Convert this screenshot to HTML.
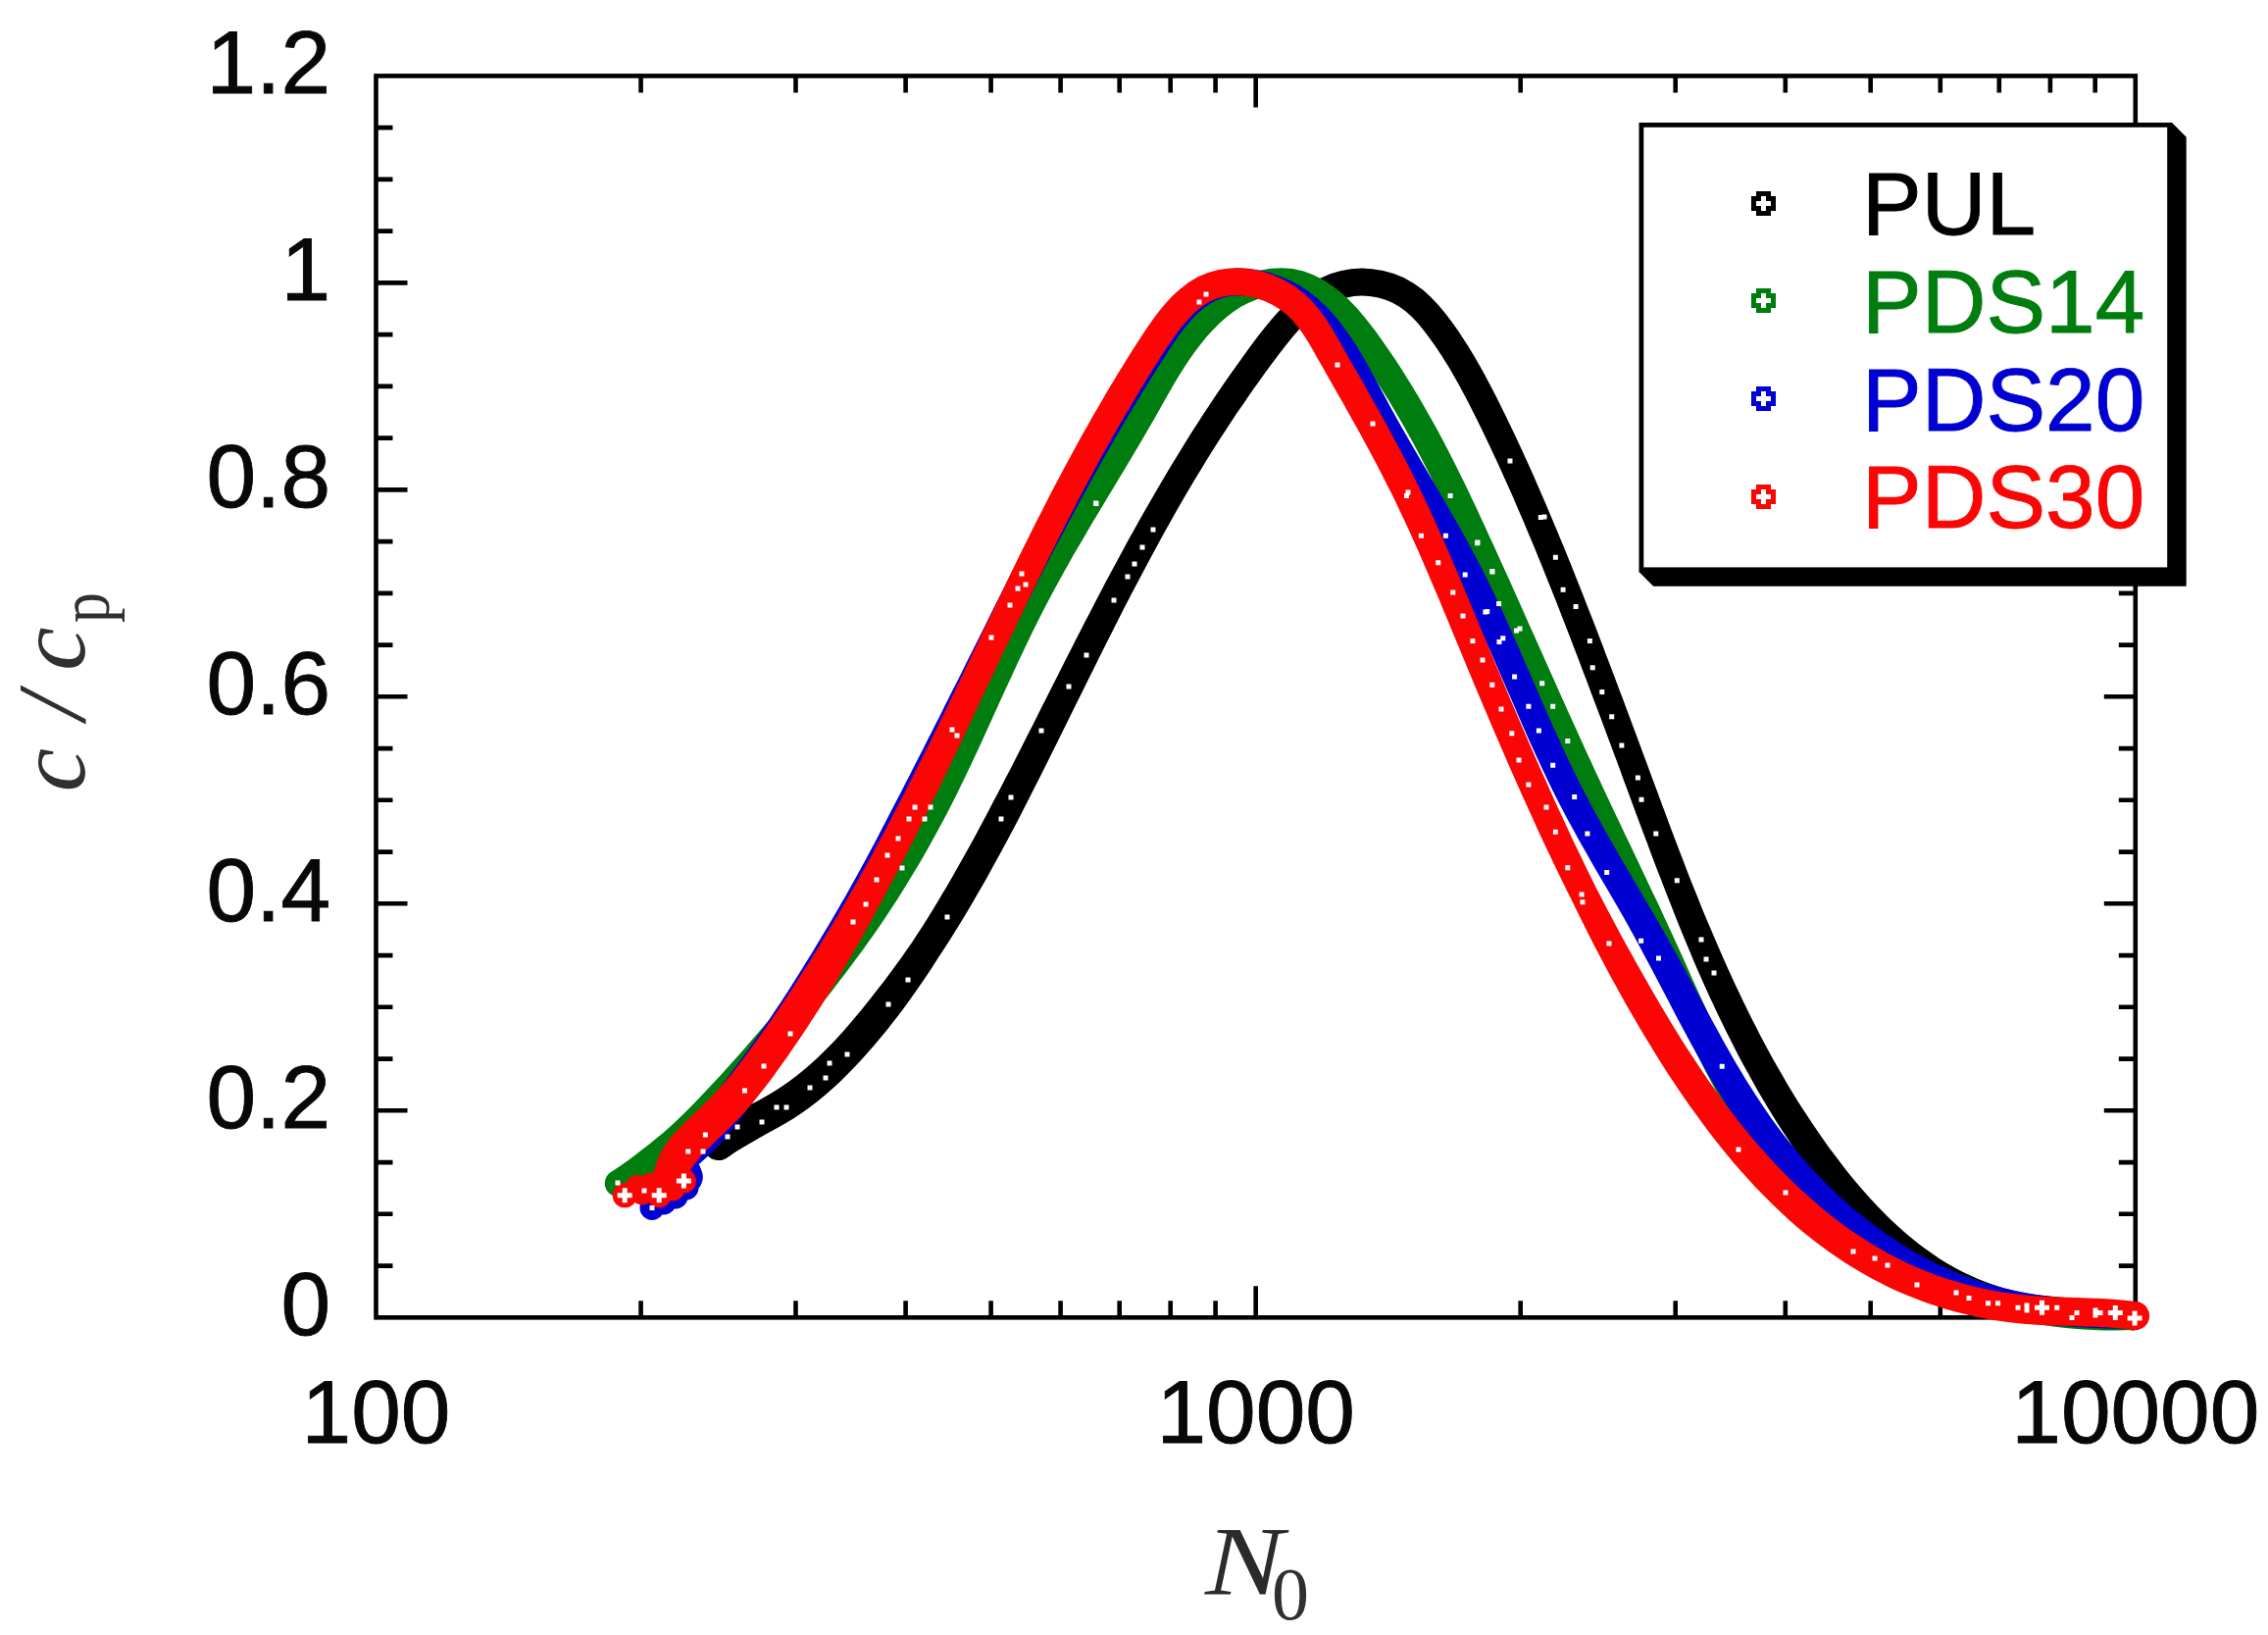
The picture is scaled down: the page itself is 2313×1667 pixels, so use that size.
<!DOCTYPE html>
<html lang="en"><head><meta charset="utf-8"><title>c / cp vs N0</title>
<style>html,body{margin:0;padding:0;background:#fff}body{width:2313px;height:1667px;overflow:hidden}svg{display:block}.t{font-family:"Liberation Sans",Arial,Helvetica,sans-serif;font-size:91px;fill:#080808;stroke:#080808;stroke-width:0.9px}.s{font-family:"Liberation Serif","Times New Roman",Times,serif;font-style:italic;fill:#303030}.u{font-family:"Liberation Serif","Times New Roman",Times,serif;font-style:normal;fill:#303030}</style></head><body>
<svg width="2313" height="1667" viewBox="0 0 2313 1667">
<defs><path id="mk" fill-rule="evenodd" shape-rendering="crispEdges" d="M-7.5-12.5h15v5h5v15h-5v5h-15v-5h-5v-15h5zM-2.5-7.5v5h-5v5h5v5h5v-5h5v-5h-5v-5z"/></defs>
<rect width="2313" height="1667" fill="#fff"/>
<g stroke="#000" stroke-width="4.6" fill="none" stroke-linecap="butt">
<rect x="383.5" y="77.4" width="1794.3" height="1265.9"/>
<path d="M383.5 1290.6h17M2177.8 1290.6h-17M383.5 1237.8h17M2177.8 1237.8h-17M383.5 1185.1h17M2177.8 1185.1h-17M383.5 1132.3h32M2177.8 1132.3h-32M383.5 1079.6h17M2177.8 1079.6h-17M383.5 1026.8h17M2177.8 1026.8h-17M383.5 974.1h17M2177.8 974.1h-17M383.5 921.3h32M2177.8 921.3h-32M383.5 868.6h17M2177.8 868.6h-17M383.5 815.8h17M2177.8 815.8h-17M383.5 763.1h17M2177.8 763.1h-17M383.5 710.3h32M2177.8 710.3h-32M383.5 657.6h17M2177.8 657.6h-17M383.5 604.9h17M2177.8 604.9h-17M383.5 552.1h17M2177.8 552.1h-17M383.5 499.4h32M2177.8 499.4h-32M383.5 446.6h17M2177.8 446.6h-17M383.5 393.9h17M2177.8 393.9h-17M383.5 341.1h17M2177.8 341.1h-17M383.5 288.4h32M2177.8 288.4h-32M383.5 235.6h17M2177.8 235.6h-17M383.5 182.9h17M2177.8 182.9h-17M383.5 130.1h17M2177.8 130.1h-17M653.6 1343.3v-17M653.6 77.4v17M811.5 1343.3v-17M811.5 77.4v17M923.6 1343.3v-17M923.6 77.4v17M1010.6 1343.3v-17M1010.6 77.4v17M1081.6 1343.3v-17M1081.6 77.4v17M1141.7 1343.3v-17M1141.7 77.4v17M1193.7 1343.3v-17M1193.7 77.4v17M1239.6 1343.3v-17M1239.6 77.4v17M1280.7 1343.3v-32M1280.7 77.4v32M1550.7 1343.3v-17M1550.7 77.4v17M1708.7 1343.3v-17M1708.7 77.4v17M1820.8 1343.3v-17M1820.8 77.4v17M1907.7 1343.3v-17M1907.7 77.4v17M1978.8 1343.3v-17M1978.8 77.4v17M2038.8 1343.3v-17M2038.8 77.4v17M2090.9 1343.3v-17M2090.9 77.4v17M2136.7 1343.3v-17M2136.7 77.4v17"/>
</g>
<g fill="#000000">
<path d="M742.5,1179.7 L750.1,1174.6 757.5,1170.0 765.3,1165.4 773.4,1160.7 781.8,1156.0 790.5,1151.2 799.4,1146.2 808.3,1140.9 817.0,1135.2 825.4,1129.2 833.6,1122.9 841.5,1116.5 849.2,1109.8 856.6,1102.9 863.9,1095.8 870.9,1088.6 877.8,1081.2 884.5,1073.8 891.1,1066.2 897.6,1058.6 903.9,1050.9 910.1,1043.1 916.2,1035.3 922.2,1027.3 928.0,1019.2 933.8,1011.1 939.4,1002.9 945.0,994.7 950.5,986.4 955.9,978.1 961.3,969.7 966.7,961.4 972.0,952.9 977.3,944.5 982.5,936.0 987.6,927.5 992.6,918.9 997.6,910.3 1002.6,901.7 1007.5,893.0 1012.3,884.3 1017.1,875.6 1021.8,866.9 1026.5,858.2 1031.2,849.4 1035.8,840.7 1040.4,831.9 1044.9,823.1 1049.4,814.3 1053.8,805.6 1058.3,796.8 1062.7,788.0 1067.1,779.2 1071.4,770.5 1075.8,761.7 1080.1,753.0 1084.4,744.2 1088.8,735.5 1093.1,726.8 1097.4,718.1 1101.7,709.4 1106.0,700.7 1110.3,692.1 1114.6,683.4 1118.9,674.8 1123.2,666.1 1127.5,657.5 1131.8,648.9 1136.2,640.3 1140.5,631.7 1144.9,623.1 1149.3,614.6 1153.7,606.0 1158.2,597.5 1162.7,589.0 1167.2,580.4 1171.7,571.9 1176.3,563.5 1180.9,555.0 1185.5,546.5 1190.2,538.1 1194.9,529.7 1199.6,521.2 1204.5,512.8 1209.3,504.5 1214.3,496.1 1219.2,487.8 1224.3,479.4 1229.4,471.1 1234.5,462.8 1239.7,454.6 1245.0,446.3 1250.4,438.1 1255.8,429.8 1261.2,421.6 1266.8,413.4 1272.4,405.3 1278.1,397.1 1283.9,389.0 1289.7,380.8 1295.6,372.7 1301.6,364.7 1307.7,356.7 1313.8,349.0 1319.9,341.6 1326.2,334.6 1332.6,328.1 1339.1,322.2 1345.7,316.9 1352.4,312.4 1359.2,308.6 1366.1,305.6 1373.3,303.4 1380.8,302.1 1388.6,301.6 1396.6,302.0 1404.6,303.3 1412.4,305.5 1419.8,308.5 1426.8,312.4 1433.4,317.3 1439.8,323.0 1446.0,329.6 1451.9,336.8 1457.7,344.4 1463.3,352.3 1468.7,360.3 1473.9,368.4 1478.9,376.6 1483.7,384.9 1488.4,393.3 1492.9,401.8 1497.4,410.3 1501.8,418.9 1506.1,427.6 1510.4,436.3 1514.6,445.0 1518.8,453.8 1522.9,462.5 1527.0,471.3 1531.0,480.1 1535.0,488.9 1539.0,497.8 1542.9,506.6 1546.7,515.5 1550.6,524.4 1554.4,533.3 1558.1,542.2 1561.9,551.2 1565.6,560.1 1569.2,569.1 1572.9,578.1 1576.5,587.1 1580.1,596.1 1583.7,605.1 1587.3,614.1 1590.8,623.1 1594.3,632.1 1597.9,641.2 1601.4,650.2 1604.8,659.3 1608.3,668.3 1611.8,677.4 1615.2,686.5 1618.7,695.6 1622.1,704.7 1625.5,713.8 1629.0,722.9 1632.4,732.0 1635.8,741.1 1639.2,750.2 1642.6,759.3 1646.0,768.5 1649.4,777.6 1652.8,786.8 1656.1,796.0 1659.5,805.1 1662.9,814.3 1666.3,823.5 1669.7,832.7 1673.2,841.9 1676.6,851.1 1680.1,860.3 1683.5,869.5 1687.0,878.7 1690.5,887.9 1694.1,897.0 1697.6,906.2 1701.2,915.4 1704.8,924.6 1708.4,933.8 1712.1,942.9 1715.8,952.1 1719.6,961.2 1723.4,970.3 1727.2,979.4 1731.1,988.4 1735.1,997.5 1739.1,1006.5 1743.2,1015.5 1747.4,1024.5 1751.6,1033.4 1755.9,1042.3 1760.2,1051.2 1764.7,1060.1 1769.2,1068.9 1773.7,1077.7 1778.4,1086.4 1783.2,1095.1 1788.0,1103.8 1792.9,1112.4 1797.9,1121.0 1803.0,1129.5 1808.2,1138.0 1813.5,1146.4 1818.9,1154.8 1824.4,1163.1 1830.0,1171.4 1835.7,1179.7 1841.5,1187.8 1847.5,1196.0 1853.5,1204.0 1859.7,1212.0 1866.0,1219.8 1872.5,1227.6 1879.1,1235.3 1885.8,1242.8 1892.7,1250.2 1899.8,1257.4 1907.0,1264.4 1914.3,1271.3 1921.9,1278.0 1929.6,1284.5 1937.4,1290.7 1945.4,1296.8 1953.6,1302.5 1962.0,1308.1 1970.6,1313.3 1979.3,1318.3 1988.3,1322.9 1997.4,1327.3 2006.7,1331.3 2016.2,1335.0 2025.9,1338.3 2035.8,1341.3 2045.9,1343.8 2056.1,1346.0 2066.5,1347.8 2077.0,1349.1 2087.5,1350.2 2097.9,1351.1 2108.2,1351.8 2118.5,1352.4 2128.6,1352.9 2138.4,1353.4 2148.1,1353.9 2157.4,1354.6 2166.4,1355.4 2175.2,1356.4 A14.0 14.0 0 0 0 2178.6,1328.7 L2169.4,1327.5 2159.8,1326.5 2150.0,1325.7 2140.1,1325.1 2130.1,1324.5 2120.1,1323.9 2110.1,1323.3 2100.1,1322.5 2090.2,1321.6 2080.5,1320.5 2070.9,1319.2 2061.6,1317.5 2052.5,1315.6 2043.6,1313.2 2034.9,1310.6 2026.3,1307.6 2017.9,1304.2 2009.6,1300.6 2001.5,1296.7 1993.5,1292.4 1985.6,1287.9 1977.9,1283.2 1970.4,1278.1 1962.9,1272.8 1955.6,1267.3 1948.5,1261.5 1941.4,1255.5 1934.5,1249.3 1927.7,1242.9 1921.0,1236.3 1914.4,1229.5 1907.9,1222.6 1901.6,1215.5 1895.3,1208.3 1889.2,1200.9 1883.1,1193.4 1877.2,1185.8 1871.4,1178.1 1865.6,1170.4 1860.0,1162.5 1854.4,1154.6 1849.0,1146.6 1843.7,1138.6 1838.4,1130.5 1833.3,1122.4 1828.2,1114.2 1823.2,1105.9 1818.4,1097.6 1813.6,1089.3 1808.8,1080.9 1804.2,1072.4 1799.6,1063.9 1795.1,1055.4 1790.7,1046.8 1786.3,1038.2 1782.0,1029.6 1777.8,1020.9 1773.6,1012.1 1769.5,1003.4 1765.4,994.6 1761.4,985.7 1757.5,976.9 1753.6,968.0 1749.7,959.1 1745.9,950.1 1742.1,941.2 1738.3,932.2 1734.6,923.2 1731.0,914.1 1727.3,905.1 1723.7,896.0 1720.2,886.9 1716.7,877.8 1713.2,868.7 1709.7,859.6 1706.3,850.4 1702.8,841.3 1699.4,832.1 1696.0,822.9 1692.6,813.8 1689.2,804.6 1685.8,795.4 1682.4,786.2 1679.0,777.1 1675.6,767.9 1672.2,758.7 1668.8,749.6 1665.4,740.4 1662.0,731.3 1658.6,722.2 1655.2,713.0 1651.7,703.9 1648.3,694.8 1644.9,685.7 1641.4,676.5 1637.9,667.4 1634.5,658.3 1631.0,649.2 1627.5,640.1 1624.0,631.0 1620.4,622.0 1616.9,612.9 1613.3,603.8 1609.7,594.7 1606.1,585.7 1602.5,576.6 1598.8,567.6 1595.2,558.5 1591.4,549.5 1587.7,540.4 1583.9,531.4 1580.1,522.4 1576.3,513.4 1572.4,504.4 1568.5,495.4 1564.6,486.4 1560.6,477.5 1556.5,468.5 1552.4,459.6 1548.3,450.7 1544.1,441.8 1539.9,432.9 1535.6,424.0 1531.2,415.2 1526.8,406.3 1522.3,397.5 1517.7,388.7 1512.9,379.8 1508.0,371.0 1502.9,362.3 1497.6,353.6 1492.1,344.9 1486.4,336.3 1480.3,327.8 1473.8,319.3 1466.9,311.0 1459.3,303.0 1451.1,295.6 1441.9,288.9 1432.0,283.3 1421.5,279.0 1410.6,276.0 1399.6,274.2 1388.5,273.6 1377.5,274.3 1366.8,276.2 1356.5,279.3 1346.8,283.5 1337.6,288.6 1329.0,294.4 1320.9,300.9 1313.2,308.0 1305.8,315.5 1298.8,323.3 1292.1,331.3 1285.5,339.5 1279.2,347.8 1273.1,356.1 1267.0,364.4 1261.1,372.7 1255.2,381.0 1249.4,389.3 1243.6,397.7 1238.0,406.0 1232.4,414.4 1226.9,422.8 1221.5,431.2 1216.1,439.6 1210.8,448.0 1205.6,456.4 1200.4,464.9 1195.3,473.3 1190.2,481.8 1185.2,490.3 1180.2,498.8 1175.3,507.2 1170.4,515.7 1165.5,524.2 1160.7,532.7 1156.0,541.3 1151.2,549.8 1146.6,558.3 1141.9,566.9 1137.3,575.5 1132.7,584.0 1128.1,592.6 1123.6,601.2 1119.1,609.8 1114.6,618.4 1110.2,627.0 1105.7,635.6 1101.3,644.2 1096.9,652.8 1092.5,661.5 1088.1,670.1 1083.7,678.8 1079.3,687.4 1075.0,696.1 1070.6,704.7 1066.2,713.4 1061.8,722.1 1057.5,730.8 1053.1,739.4 1048.7,748.1 1044.3,756.8 1039.9,765.5 1035.4,774.2 1031.0,782.9 1026.5,791.6 1022.0,800.3 1017.5,808.9 1012.9,817.6 1008.4,826.3 1003.8,834.9 999.2,843.6 994.6,852.2 989.9,860.8 985.2,869.3 980.4,877.8 975.6,886.3 970.8,894.8 965.9,903.2 960.9,911.6 955.9,920.0 950.9,928.2 945.8,936.5 940.6,944.7 935.3,952.8 930.0,960.9 924.5,968.8 919.0,976.7 913.3,984.5 907.6,992.3 901.9,999.9 896.0,1007.5 890.1,1015.1 884.2,1022.6 878.2,1030.0 872.1,1037.3 866.0,1044.6 859.7,1051.7 853.4,1058.7 846.9,1065.5 840.4,1072.1 833.7,1078.6 826.9,1084.8 819.9,1090.8 812.8,1096.5 805.5,1102.1 798.1,1107.3 790.4,1112.3 782.4,1117.0 774.1,1121.7 765.5,1126.3 756.7,1131.2 747.8,1136.3 739.0,1142.1 730.5,1148.5 723.1,1155.5 A15.5 15.5 0 0 0 742.5,1179.7 Z"/>
</g>
<g fill="#007d0f">
<path d="M637.0,1218.1 L646.3,1213.5 655.6,1208.3 664.7,1202.8 673.4,1196.9 681.8,1190.6 689.9,1184.0 697.9,1177.2 705.6,1170.3 713.2,1163.2 720.7,1156.0 728.0,1148.7 735.2,1141.3 742.3,1133.8 749.3,1126.3 756.2,1118.8 763.1,1111.2 769.9,1103.6 776.7,1096.0 783.5,1088.3 790.2,1080.6 796.9,1072.9 803.6,1065.1 810.2,1057.3 816.8,1049.5 823.3,1041.6 829.7,1033.7 836.2,1025.7 842.5,1017.7 848.9,1009.7 855.1,1001.6 861.3,993.5 867.5,985.3 873.6,977.1 879.6,968.9 885.6,960.5 891.5,952.2 897.4,943.8 903.1,935.3 908.7,926.8 914.3,918.2 919.8,909.5 925.2,900.8 930.5,892.1 935.8,883.3 941.0,874.5 946.1,865.6 951.1,856.6 956.0,847.6 960.9,838.6 965.7,829.5 970.4,820.3 975.0,811.2 979.5,802.0 984.0,792.8 988.4,783.5 992.8,774.2 997.1,765.0 1001.4,755.7 1005.6,746.4 1009.9,737.1 1014.1,727.8 1018.3,718.6 1022.5,709.3 1026.7,700.1 1031.0,690.9 1035.2,681.7 1039.5,672.5 1043.8,663.4 1048.1,654.4 1052.5,645.3 1057.0,636.3 1061.4,627.4 1066.0,618.5 1070.6,609.7 1075.3,600.9 1080.1,592.2 1084.9,583.5 1089.8,574.8 1094.7,566.1 1099.7,557.5 1104.8,548.9 1109.8,540.2 1114.9,531.6 1120.1,523.0 1125.2,514.4 1130.4,505.8 1135.6,497.2 1140.8,488.6 1146.0,479.9 1151.2,471.2 1156.4,462.5 1161.6,453.8 1166.7,445.0 1171.8,436.2 1176.9,427.4 1182.0,418.5 1187.0,409.6 1192.0,400.8 1197.0,392.1 1202.1,383.6 1207.3,375.2 1212.7,366.9 1218.3,358.9 1224.2,351.2 1230.4,343.6 1236.9,336.4 1243.8,329.6 1250.9,323.2 1258.3,317.6 1266.0,312.6 1274.0,308.5 1282.2,305.3 1290.5,303.0 1298.7,301.6 1306.7,301.3 1314.4,301.8 1321.6,303.4 1328.7,306.0 1335.7,309.6 1342.6,314.1 1349.4,319.5 1356.1,325.7 1362.7,332.6 1369.2,340.1 1375.5,348.0 1381.7,356.3 1387.8,364.8 1393.8,373.5 1399.6,382.1 1405.2,390.7 1410.7,399.4 1416.1,408.0 1421.3,416.7 1426.4,425.4 1431.4,434.1 1436.3,442.8 1441.1,451.5 1445.8,460.2 1450.4,469.0 1454.9,477.8 1459.3,486.6 1463.7,495.4 1468.1,504.3 1472.4,513.1 1476.6,522.1 1480.8,531.0 1485.0,540.0 1489.2,549.0 1493.4,558.1 1497.5,567.1 1501.7,576.3 1505.8,585.4 1510.0,594.6 1514.1,603.8 1518.3,613.0 1522.4,622.3 1526.6,631.5 1530.7,640.8 1534.9,650.1 1539.0,659.4 1543.2,668.7 1547.3,678.0 1551.5,687.4 1555.7,696.7 1559.8,706.0 1564.0,715.4 1568.2,724.7 1572.4,734.0 1576.6,743.3 1580.8,752.6 1585.0,761.9 1589.2,771.2 1593.5,780.5 1597.7,789.7 1602.0,799.0 1606.3,808.2 1610.6,817.3 1614.9,826.5 1619.2,835.6 1623.5,844.7 1627.8,853.8 1632.2,862.9 1636.5,872.0 1640.8,881.1 1645.1,890.1 1649.4,899.2 1653.7,908.3 1658.0,917.3 1662.3,926.4 1666.6,935.5 1670.9,944.6 1675.1,953.8 1679.3,962.9 1683.6,972.1 1687.8,981.3 1691.9,990.6 1696.1,999.8 1700.3,1009.2 1704.5,1018.5 1708.7,1027.9 1713.0,1037.3 1717.3,1046.6 1721.7,1056.0 1726.1,1065.3 1730.6,1074.6 1735.2,1083.9 1739.9,1093.2 1744.7,1102.3 1749.6,1111.5 1754.7,1120.5 1759.8,1129.5 1765.2,1138.3 1770.7,1147.1 1776.3,1155.8 1782.2,1164.4 1788.2,1172.8 1794.4,1181.1 1800.9,1189.2 1807.5,1197.2 1814.3,1205.0 1821.3,1212.7 1828.5,1220.2 1835.8,1227.5 1843.4,1234.6 1851.1,1241.6 1858.9,1248.3 1866.9,1254.9 1875.1,1261.3 1883.4,1267.5 1891.8,1273.6 1900.4,1279.4 1909.1,1285.1 1918.0,1290.5 1926.9,1295.8 1936.0,1300.8 1945.2,1305.7 1954.5,1310.3 1964.0,1314.8 1973.5,1319.0 1983.1,1323.0 1992.8,1326.8 2002.6,1330.4 2012.5,1333.7 2022.4,1336.9 2032.4,1339.8 2042.5,1342.5 2052.7,1345.0 2062.9,1347.2 2073.2,1349.2 2083.5,1351.0 2093.9,1352.5 2104.3,1353.8 2114.7,1354.8 2125.2,1355.6 2135.7,1356.1 2146.2,1356.4 2156.8,1356.5 2167.3,1356.2 2177.7,1355.8 A14.0 14.0 0 0 0 2176.4,1327.8 L2166.4,1328.3 2156.5,1328.5 2146.6,1328.4 2136.8,1328.2 2127.0,1327.7 2117.1,1326.9 2107.4,1325.9 2097.6,1324.7 2087.9,1323.3 2078.2,1321.7 2068.6,1319.8 2059.0,1317.7 2049.4,1315.4 2040.0,1312.8 2030.5,1310.1 2021.2,1307.1 2011.9,1304.0 2002.7,1300.6 1993.6,1297.0 1984.6,1293.3 1975.6,1289.3 1966.8,1285.1 1958.0,1280.8 1949.4,1276.2 1940.8,1271.5 1932.4,1266.5 1924.1,1261.4 1915.9,1256.1 1907.8,1250.6 1899.9,1244.9 1892.1,1239.1 1884.5,1233.1 1876.9,1226.9 1869.6,1220.6 1862.4,1214.1 1855.3,1207.4 1848.4,1200.5 1841.7,1193.5 1835.2,1186.4 1828.8,1179.1 1822.6,1171.6 1816.6,1164.0 1810.8,1156.2 1805.1,1148.3 1799.6,1140.3 1794.3,1132.1 1789.1,1123.7 1784.0,1115.3 1779.0,1106.7 1774.2,1098.0 1769.4,1089.2 1764.8,1080.3 1760.2,1071.4 1755.8,1062.3 1751.4,1053.2 1747.0,1044.1 1742.7,1034.9 1738.5,1025.6 1734.2,1016.3 1730.0,1007.0 1725.8,997.7 1721.7,988.4 1717.5,979.0 1713.3,969.7 1709.0,960.4 1704.8,951.2 1700.5,942.0 1696.2,932.8 1692.0,923.6 1687.7,914.5 1683.3,905.4 1679.0,896.3 1674.7,887.2 1670.4,878.1 1666.1,869.0 1661.8,859.9 1657.4,850.9 1653.1,841.8 1648.8,832.7 1644.5,823.7 1640.2,814.6 1635.9,805.5 1631.7,796.3 1627.4,787.2 1623.2,778.0 1618.9,768.8 1614.7,759.6 1610.5,750.3 1606.3,741.1 1602.1,731.8 1597.9,722.5 1593.7,713.2 1589.6,703.9 1585.4,694.6 1581.2,685.3 1577.1,676.0 1572.9,666.6 1568.7,657.3 1564.6,648.0 1560.4,638.7 1556.3,629.4 1552.1,620.1 1548.0,610.8 1543.8,601.6 1539.7,592.3 1535.5,583.1 1531.3,573.9 1527.2,564.7 1523.0,555.5 1518.8,546.4 1514.6,537.3 1510.4,528.2 1506.2,519.1 1501.9,510.1 1497.6,501.0 1493.3,492.0 1488.8,483.0 1484.4,474.0 1479.8,465.0 1475.2,456.1 1470.5,447.1 1465.7,438.1 1460.8,429.2 1455.7,420.2 1450.6,411.3 1445.4,402.4 1440.0,393.4 1434.4,384.5 1428.8,375.6 1422.9,366.6 1416.9,357.7 1410.7,348.8 1404.4,339.8 1397.7,330.9 1390.7,322.2 1383.4,313.7 1375.7,305.7 1367.6,298.2 1358.9,291.4 1349.7,285.4 1339.9,280.4 1329.5,276.6 1318.5,274.1 1307.1,273.3 1295.7,273.8 1284.4,275.7 1273.3,278.8 1262.4,283.0 1252.0,288.4 1242.3,294.6 1233.1,301.6 1224.6,309.2 1216.6,317.1 1209.2,325.4 1202.2,333.8 1195.7,342.4 1189.6,351.2 1183.7,360.1 1178.2,369.0 1172.8,378.0 1167.7,386.9 1162.6,395.8 1157.6,404.7 1152.6,413.4 1147.6,422.2 1142.5,430.9 1137.4,439.6 1132.3,448.2 1127.2,456.9 1122.0,465.5 1116.8,474.1 1111.6,482.8 1106.4,491.4 1101.2,500.0 1096.0,508.7 1090.9,517.3 1085.7,526.0 1080.6,534.7 1075.5,543.4 1070.4,552.2 1065.4,561.0 1060.5,569.8 1055.5,578.7 1050.7,587.6 1045.9,596.6 1041.1,605.7 1036.5,614.7 1031.9,623.9 1027.4,633.0 1022.9,642.2 1018.5,651.4 1014.2,660.6 1009.8,669.9 1005.5,679.1 1001.3,688.4 997.0,697.7 992.8,706.9 988.6,716.2 984.3,725.4 980.0,734.6 975.7,743.8 971.4,752.9 967.1,762.1 962.7,771.2 958.3,780.2 953.8,789.2 949.3,798.2 944.7,807.1 940.1,816.0 935.3,824.8 930.5,833.5 925.5,842.2 920.5,850.8 915.4,859.4 910.2,867.9 905.0,876.4 899.6,884.8 894.2,893.1 888.7,901.5 883.1,909.7 877.5,918.0 871.8,926.2 866.1,934.4 860.4,942.5 854.5,950.7 848.6,958.7 842.7,966.8 836.7,974.8 830.6,982.7 824.4,990.6 818.2,998.5 812.0,1006.4 805.7,1014.2 799.3,1021.9 792.9,1029.7 786.5,1037.4 780.0,1045.0 773.4,1052.7 766.9,1060.3 760.2,1067.9 753.6,1075.4 746.8,1082.9 740.1,1090.4 733.3,1097.9 726.5,1105.3 719.7,1112.6 712.8,1119.8 705.9,1126.9 698.9,1133.9 691.9,1140.7 684.7,1147.4 677.5,1153.9 670.1,1160.1 662.6,1166.2 655.0,1172.1 647.4,1177.9 639.7,1183.7 631.8,1189.3 623.5,1194.7 A13.5 13.5 0 0 0 637.0,1218.1 Z"/>
</g>
<g fill="#0000d2">
<path d="M715.3,1192.9 L712.2,1185.5 713.0,1186.8 714.8,1185.2 720.6,1179.9 728.5,1172.6 736.3,1164.3 743.4,1155.9 749.9,1147.7 756.0,1139.6 762.0,1131.6 768.0,1123.6 773.9,1115.6 779.7,1107.6 785.5,1099.5 791.2,1091.4 796.9,1083.3 802.5,1075.1 808.1,1066.8 813.6,1058.5 819.0,1050.2 824.4,1041.7 829.8,1033.3 835.1,1024.8 840.4,1016.3 845.6,1007.7 850.8,999.1 855.9,990.4 860.9,981.7 865.9,973.0 870.9,964.2 875.8,955.4 880.6,946.6 885.4,937.7 890.2,928.9 895.0,920.0 899.7,911.1 904.4,902.2 909.1,893.2 913.8,884.3 918.5,875.4 923.2,866.5 927.9,857.6 932.5,848.7 937.1,839.7 941.6,830.8 946.1,821.8 950.5,812.8 955.0,803.9 959.4,794.9 963.7,785.9 968.1,777.0 972.5,768.1 976.8,759.1 981.1,750.2 985.4,741.3 989.7,732.4 994.0,723.5 998.3,714.7 1002.6,705.8 1006.8,696.9 1011.1,688.1 1015.4,679.3 1019.6,670.4 1024.0,661.6 1028.4,652.8 1032.7,644.1 1037.1,635.3 1041.5,626.5 1045.9,617.8 1050.3,609.0 1054.7,600.3 1059.2,591.5 1063.6,582.8 1068.1,574.1 1072.6,565.3 1077.2,556.6 1081.7,547.9 1086.3,539.2 1090.9,530.5 1095.6,521.8 1100.3,513.1 1105.0,504.4 1109.8,495.7 1114.6,487.0 1119.4,478.3 1124.3,469.6 1129.2,460.9 1134.2,452.2 1139.2,443.5 1144.3,434.8 1149.4,426.1 1154.6,417.4 1159.9,408.7 1165.2,400.0 1170.5,391.3 1175.9,382.6 1181.4,373.9 1187.0,365.2 1192.5,356.6 1198.1,348.2 1203.8,340.2 1209.6,332.6 1215.5,325.7 1221.5,319.5 1227.6,314.2 1233.9,309.7 1240.4,306.2 1247.1,303.6 1254.3,302.1 1262.1,301.4 1270.4,301.7 1279.0,302.9 1287.6,305.0 1296.0,307.8 1304.0,311.3 1311.5,315.5 1318.6,320.2 1325.4,325.6 1331.8,331.5 1338.0,338.0 1343.8,345.0 1349.5,352.4 1355.0,360.2 1360.2,368.4 1365.4,376.9 1370.4,385.7 1375.3,394.6 1380.2,403.7 1385.1,412.8 1390.0,422.0 1395.0,431.2 1400.0,440.2 1405.0,449.1 1410.0,458.0 1415.0,466.7 1420.1,475.4 1425.1,484.0 1430.1,492.6 1435.1,501.1 1440.1,509.6 1445.0,518.1 1449.9,526.5 1454.8,534.9 1459.6,543.3 1464.4,551.7 1469.1,560.2 1473.7,568.6 1478.3,577.1 1482.8,585.7 1487.2,594.3 1491.5,602.9 1495.8,611.7 1500.0,620.5 1504.2,629.4 1508.3,638.3 1512.4,647.3 1516.4,656.3 1520.5,665.3 1524.5,674.4 1528.4,683.6 1532.4,692.7 1536.4,701.9 1540.4,711.1 1544.4,720.3 1548.4,729.6 1552.4,738.8 1556.5,748.0 1560.6,757.2 1564.8,766.4 1569.0,775.6 1573.3,784.7 1577.6,793.8 1582.0,802.9 1586.5,812.0 1591.1,821.0 1595.8,829.9 1600.5,838.8 1605.4,847.6 1610.2,856.4 1615.1,865.1 1620.1,873.7 1625.0,882.4 1630.0,891.0 1635.0,899.5 1640.0,908.1 1645.0,916.6 1650.0,925.2 1654.9,933.7 1659.7,942.3 1664.5,950.9 1669.2,959.6 1673.9,968.2 1678.5,976.9 1683.1,985.5 1687.7,994.3 1692.3,1003.0 1696.9,1011.8 1701.5,1020.6 1706.1,1029.4 1710.7,1038.2 1715.4,1047.0 1720.1,1055.8 1724.8,1064.6 1729.6,1073.3 1734.5,1082.1 1739.4,1090.8 1744.4,1099.5 1749.5,1108.1 1754.7,1116.7 1759.9,1125.3 1765.3,1133.8 1770.8,1142.2 1776.5,1150.6 1782.3,1158.9 1788.2,1167.2 1794.3,1175.3 1800.5,1183.4 1806.9,1191.3 1813.5,1199.2 1820.2,1206.9 1827.1,1214.5 1834.2,1222.0 1841.4,1229.3 1848.7,1236.5 1856.2,1243.5 1863.9,1250.4 1871.7,1257.1 1879.7,1263.6 1887.8,1269.9 1896.1,1276.1 1904.4,1282.1 1913.0,1287.8 1921.6,1293.4 1930.4,1298.8 1939.3,1303.9 1948.3,1308.8 1957.5,1313.5 1966.8,1317.9 1976.2,1322.1 1985.7,1326.0 1995.3,1329.7 2005.0,1333.1 2014.9,1336.3 2024.8,1339.1 2034.9,1341.7 2045.0,1344.0 2055.2,1345.9 2065.5,1347.7 2075.7,1349.1 2086.0,1350.4 2096.2,1351.4 2106.5,1352.3 2116.7,1353.0 2126.9,1353.6 2137.0,1354.0 2147.1,1354.4 2157.1,1354.7 2167.0,1354.8 2176.7,1355.0 A14.0 14.0 0 0 0 2177.3,1327.0 L2167.5,1326.8 2157.8,1326.5 2148.0,1326.2 2138.2,1325.8 2128.4,1325.3 2118.6,1324.6 2108.8,1323.8 2099.1,1322.9 2089.4,1321.8 2079.7,1320.4 2070.1,1318.9 2060.6,1317.2 2051.2,1315.2 2041.9,1313.0 2032.7,1310.6 2023.6,1307.9 2014.6,1304.9 2005.7,1301.7 1996.9,1298.2 1988.2,1294.5 1979.5,1290.6 1971.0,1286.4 1962.6,1282.0 1954.2,1277.4 1946.0,1272.6 1937.9,1267.6 1929.9,1262.3 1922.0,1256.9 1914.2,1251.3 1906.6,1245.5 1899.0,1239.6 1891.6,1233.4 1884.3,1227.1 1877.2,1220.7 1870.1,1214.1 1863.2,1207.4 1856.4,1200.5 1849.8,1193.5 1843.3,1186.4 1836.9,1179.1 1830.7,1171.7 1824.6,1164.3 1818.7,1156.7 1812.9,1149.0 1807.2,1141.2 1801.7,1133.3 1796.3,1125.3 1791.0,1117.2 1785.8,1109.1 1780.6,1100.9 1775.6,1092.5 1770.6,1084.2 1765.7,1075.7 1760.9,1067.2 1756.1,1058.7 1751.4,1050.1 1746.7,1041.4 1742.0,1032.8 1737.3,1024.1 1732.6,1015.3 1728.0,1006.6 1723.3,997.8 1718.6,989.1 1713.8,980.3 1709.0,971.6 1704.2,962.8 1699.3,954.1 1694.4,945.4 1689.4,936.8 1684.3,928.2 1679.2,919.7 1674.2,911.1 1669.2,902.5 1664.2,894.0 1659.2,885.4 1654.2,876.9 1649.3,868.4 1644.4,859.8 1639.5,851.3 1634.7,842.7 1629.9,834.1 1625.2,825.5 1620.6,816.8 1616.0,808.1 1611.6,799.4 1607.2,790.6 1602.9,781.7 1598.6,772.8 1594.4,763.8 1590.3,754.8 1586.2,745.7 1582.1,736.6 1578.1,727.5 1574.1,718.3 1570.1,709.2 1566.1,700.0 1562.1,690.8 1558.1,681.6 1554.1,672.4 1550.1,663.2 1546.1,654.0 1542.0,644.9 1537.9,635.7 1533.8,626.6 1529.6,617.5 1525.3,608.5 1521.0,599.5 1516.6,590.5 1512.2,581.6 1507.6,572.8 1503.0,564.0 1498.3,555.3 1493.6,546.6 1488.8,538.0 1483.9,529.5 1479.1,520.9 1474.1,512.4 1469.2,503.9 1464.2,495.4 1459.2,487.0 1454.3,478.4 1449.3,469.9 1444.3,461.3 1439.3,452.7 1434.3,444.1 1429.4,435.4 1424.4,426.6 1419.5,417.7 1414.7,408.7 1409.8,399.7 1404.9,390.5 1399.9,381.2 1394.8,371.9 1389.5,362.7 1384.0,353.6 1378.2,344.7 1372.1,335.9 1365.7,327.5 1358.8,319.3 1351.5,311.6 1343.6,304.3 1335.2,297.6 1326.1,291.6 1316.4,286.2 1306.1,281.7 1295.3,278.0 1284.2,275.4 1272.9,273.8 1261.4,273.4 1250.1,274.4 1239.1,276.8 1228.7,280.7 1219.1,285.9 1210.3,292.2 1202.2,299.2 1194.8,306.9 1187.8,315.1 1181.3,323.6 1175.1,332.4 1169.1,341.2 1163.4,350.1 1157.8,358.9 1152.2,367.8 1146.7,376.6 1141.3,385.4 1135.9,394.2 1130.6,403.0 1125.4,411.8 1120.2,420.6 1115.0,429.4 1109.9,438.2 1104.9,447.0 1099.9,455.8 1095.0,464.6 1090.1,473.4 1085.2,482.2 1080.4,490.9 1075.7,499.7 1070.9,508.5 1066.2,517.3 1061.6,526.1 1056.9,534.9 1052.3,543.7 1047.8,552.5 1043.2,561.2 1038.7,570.0 1034.2,578.8 1029.7,587.6 1025.3,596.4 1020.9,605.2 1016.4,614.0 1012.0,622.8 1007.7,631.6 1003.3,640.4 998.9,649.2 994.5,658.0 990.1,666.8 985.7,675.6 981.3,684.4 976.9,693.2 972.4,701.9 968.0,710.7 963.6,719.6 959.2,728.4 954.7,737.2 950.3,746.0 945.8,754.8 941.3,763.7 936.8,772.5 932.3,781.3 927.8,790.2 923.2,799.0 918.7,807.9 914.1,816.7 909.5,825.6 904.9,834.4 900.3,843.3 895.7,852.2 891.1,861.0 886.4,869.8 881.7,878.6 876.9,887.3 872.1,896.1 867.2,904.8 862.4,913.4 857.4,922.1 852.4,930.7 847.4,939.2 842.3,947.7 837.2,956.3 832.1,964.7 827.0,973.2 821.8,981.6 816.6,989.9 811.4,998.3 806.2,1006.6 800.9,1014.8 795.5,1023.0 790.1,1031.1 784.7,1039.2 779.2,1047.3 773.7,1055.2 768.1,1063.1 762.5,1071.0 756.8,1078.8 751.0,1086.5 745.2,1094.3 739.4,1102.0 733.4,1109.8 727.4,1117.6 721.3,1125.3 715.2,1132.8 709.2,1139.8 702.9,1146.3 695.7,1152.7 687.1,1160.8 678.7,1173.8 677.5,1192.4 684.3,1206.9 A17.0 17.0 0 0 0 715.3,1192.9 Z"/>
<circle cx="665.0" cy="1231.4" r="12.5"/>
<circle cx="677.0" cy="1226.0" r="12.5"/>
<circle cx="689.0" cy="1220.0" r="12.5"/>
<circle cx="700.0" cy="1211.0" r="12.5"/>
<circle cx="703.0" cy="1203.0" r="12.5"/>
</g>
<g fill="#fb0505">
<path d="M699.8,1202.5 L703.1,1194.6 706.9,1188.6 711.7,1182.5 717.4,1176.1 723.9,1169.5 731.0,1162.6 738.3,1155.6 745.7,1148.3 753.1,1140.8 760.2,1133.0 767.0,1125.1 773.5,1117.1 779.8,1109.0 786.0,1100.9 791.9,1092.8 797.8,1084.6 803.6,1076.4 809.3,1068.1 815.0,1059.8 820.6,1051.4 826.1,1042.9 831.6,1034.5 837.1,1026.0 842.5,1017.4 847.8,1008.8 853.1,1000.2 858.3,991.5 863.4,982.7 868.5,974.0 873.6,965.2 878.6,956.4 883.5,947.5 888.4,938.6 893.2,929.7 898.1,920.8 902.9,911.8 907.6,902.9 912.3,893.9 917.0,884.9 921.7,875.9 926.3,866.9 930.9,857.9 935.5,848.8 940.0,839.8 944.5,830.7 948.9,821.7 953.4,812.6 957.8,803.6 962.2,794.5 966.5,785.5 970.8,776.4 975.1,767.4 979.4,758.4 983.6,749.3 987.9,740.3 992.1,731.3 996.3,722.3 1000.6,713.3 1004.8,704.3 1009.1,695.4 1013.3,686.4 1017.5,677.5 1021.8,668.5 1026.0,659.6 1030.2,650.7 1034.5,641.7 1038.7,632.8 1043.0,623.9 1047.3,615.0 1051.6,606.1 1055.9,597.2 1060.2,588.3 1064.6,579.4 1068.9,570.6 1073.3,561.7 1077.8,552.8 1082.2,544.0 1086.7,535.1 1091.2,526.3 1095.8,517.4 1100.4,508.6 1105.0,499.8 1109.7,491.0 1114.4,482.2 1119.2,473.4 1124.0,464.6 1128.9,455.8 1133.9,447.0 1138.8,438.2 1143.9,429.4 1149.0,420.7 1154.2,411.9 1159.4,403.2 1164.7,394.4 1170.1,385.7 1175.5,377.0 1181.1,368.2 1186.6,359.6 1192.2,351.0 1197.9,342.9 1203.7,335.1 1209.6,328.0 1215.6,321.5 1221.8,315.8 1228.1,311.0 1234.5,307.2 1241.2,304.3 1248.3,302.3 1255.9,301.3 1264.0,301.3 1272.4,302.2 1280.8,304.1 1289.1,306.8 1297.1,310.5 1304.6,314.9 1311.4,320.1 1317.6,326.1 1323.4,333.0 1328.9,340.6 1334.2,348.8 1339.3,357.4 1344.3,366.4 1349.4,375.3 1354.4,384.2 1359.4,393.0 1364.3,401.7 1369.3,410.3 1374.1,418.9 1378.9,427.5 1383.7,436.0 1388.4,444.6 1393.1,453.2 1397.7,461.7 1402.3,470.3 1406.8,479.0 1411.3,487.7 1415.7,496.4 1420.1,505.1 1424.4,514.0 1428.6,522.9 1432.8,531.8 1437.0,540.8 1441.1,549.9 1445.2,559.1 1449.2,568.2 1453.2,577.4 1457.2,586.7 1461.1,596.0 1465.1,605.3 1469.0,614.6 1472.9,623.9 1476.8,633.3 1480.6,642.6 1484.5,652.0 1488.4,661.3 1492.2,670.6 1496.1,679.9 1500.0,689.2 1503.8,698.4 1507.7,707.7 1511.6,716.9 1515.5,726.1 1519.4,735.3 1523.3,744.4 1527.2,753.6 1531.2,762.7 1535.2,771.9 1539.1,781.0 1543.1,790.1 1547.1,799.1 1551.2,808.2 1555.3,817.3 1559.3,826.3 1563.5,835.3 1567.6,844.4 1571.8,853.4 1576.0,862.4 1580.2,871.3 1584.5,880.3 1588.8,889.3 1593.2,898.2 1597.6,907.2 1602.0,916.1 1606.4,925.1 1610.8,934.1 1615.3,943.0 1619.8,952.0 1624.3,961.0 1629.0,969.9 1633.7,978.8 1638.4,987.7 1643.2,996.7 1648.1,1005.6 1653.0,1014.5 1658.0,1023.4 1663.1,1032.3 1668.2,1041.1 1673.4,1050.0 1678.7,1058.8 1684.1,1067.6 1689.5,1076.4 1695.0,1085.2 1700.6,1093.9 1706.3,1102.5 1712.1,1111.2 1717.9,1119.7 1723.8,1128.2 1729.9,1136.6 1736.0,1145.0 1742.2,1153.2 1748.5,1161.4 1754.9,1169.5 1761.4,1177.5 1768.0,1185.4 1774.8,1193.2 1781.6,1200.8 1788.5,1208.4 1795.6,1215.8 1802.8,1223.1 1810.1,1230.3 1817.5,1237.3 1825.0,1244.2 1832.7,1250.9 1840.6,1257.4 1848.5,1263.7 1856.6,1269.9 1864.8,1275.9 1873.2,1281.8 1881.7,1287.4 1890.3,1292.8 1899.1,1298.0 1908.0,1303.0 1917.1,1307.8 1926.3,1312.4 1935.7,1316.7 1945.2,1320.8 1954.9,1324.6 1964.6,1328.2 1974.5,1331.6 1984.5,1334.7 1994.5,1337.6 2004.6,1340.1 2014.8,1342.5 2025.1,1344.5 2035.4,1346.3 2045.7,1347.8 2056.1,1349.1 2066.5,1350.0 2076.8,1350.7 2087.0,1351.2 2097.1,1351.5 2107.2,1351.8 2117.2,1352.1 2127.1,1352.4 2137.0,1352.7 2146.8,1353.2 2156.5,1353.9 2166.1,1354.8 2175.8,1356.0 A14.5 14.5 0 0 0 2179.4,1327.2 L2169.2,1326.0 2158.8,1325.0 2148.5,1324.3 2138.3,1323.8 2128.1,1323.4 2118.1,1323.1 2108.1,1322.8 2098.1,1322.4 2088.3,1322.0 2078.5,1321.5 2068.9,1320.8 2059.3,1319.8 2049.7,1318.6 2040.1,1317.2 2030.6,1315.5 2021.1,1313.5 2011.7,1311.3 2002.3,1308.8 1993.1,1306.1 1983.9,1303.2 1974.7,1300.0 1965.7,1296.6 1956.9,1293.0 1948.1,1289.2 1939.5,1285.1 1931.0,1280.8 1922.7,1276.3 1914.5,1271.6 1906.4,1266.7 1898.4,1261.6 1890.5,1256.4 1882.8,1250.9 1875.1,1245.3 1867.6,1239.5 1860.2,1233.5 1852.9,1227.3 1845.7,1221.0 1838.5,1214.6 1831.5,1208.0 1824.6,1201.2 1817.8,1194.3 1811.0,1187.3 1804.4,1180.1 1797.9,1172.8 1791.4,1165.4 1785.1,1157.9 1778.8,1150.3 1772.6,1142.5 1766.5,1134.7 1760.5,1126.7 1754.6,1118.7 1748.7,1110.6 1742.9,1102.4 1737.2,1094.1 1731.6,1085.7 1726.1,1077.3 1720.6,1068.9 1715.2,1060.4 1709.8,1051.8 1704.5,1043.2 1699.3,1034.6 1694.2,1025.9 1689.1,1017.2 1684.0,1008.5 1679.1,999.8 1674.1,991.1 1669.2,982.4 1664.3,973.6 1659.5,964.9 1654.7,956.2 1650.0,947.5 1645.3,938.7 1640.7,930.0 1636.1,921.2 1631.6,912.4 1627.0,903.7 1622.7,894.8 1618.3,886.0 1614.0,877.1 1609.8,868.2 1605.5,859.4 1601.3,850.5 1597.2,841.5 1593.0,832.6 1588.9,823.7 1584.8,814.7 1580.8,805.8 1576.8,796.8 1572.7,787.8 1568.7,778.8 1564.8,769.7 1560.8,760.7 1556.9,751.6 1553.0,742.5 1549.1,733.4 1545.2,724.3 1541.3,715.2 1537.4,706.0 1533.5,696.8 1529.7,687.6 1525.8,678.4 1521.9,669.1 1518.1,659.9 1514.2,650.6 1510.4,641.2 1506.5,631.9 1502.6,622.5 1498.7,613.2 1494.8,603.8 1490.9,594.4 1486.9,585.1 1482.9,575.7 1478.9,566.3 1474.9,557.0 1470.8,547.7 1466.6,538.4 1462.5,529.2 1458.2,520.0 1454.0,510.9 1449.6,501.8 1445.2,492.8 1440.8,483.8 1436.3,474.9 1431.7,466.1 1427.1,457.3 1422.4,448.5 1417.7,439.8 1413.0,431.1 1408.2,422.4 1403.4,413.8 1398.5,405.1 1393.6,396.5 1388.7,387.8 1383.7,379.1 1378.7,370.4 1373.7,361.6 1368.7,352.6 1363.5,343.4 1358.0,334.1 1352.1,324.8 1345.5,315.7 1338.1,307.0 1329.6,298.9 1320.2,291.7 1310.1,285.7 1299.4,280.8 1288.3,277.1 1276.9,274.6 1265.5,273.3 1254.0,273.4 1242.8,274.9 1231.9,277.9 1221.8,282.3 1212.4,287.8 1203.8,294.4 1195.9,301.6 1188.5,309.5 1181.7,317.8 1175.2,326.5 1169.1,335.3 1163.2,344.3 1157.4,353.2 1151.8,362.1 1146.3,370.9 1140.8,379.8 1135.4,388.7 1130.1,397.6 1124.9,406.5 1119.7,415.4 1114.5,424.3 1109.5,433.2 1104.5,442.1 1099.5,451.0 1094.6,460.0 1089.8,468.9 1085.0,477.8 1080.3,486.7 1075.6,495.6 1070.9,504.6 1066.3,513.5 1061.8,522.4 1057.2,531.3 1052.7,540.3 1048.3,549.2 1043.8,558.2 1039.4,567.1 1035.1,576.0 1030.7,585.0 1026.4,593.9 1022.1,602.9 1017.8,611.8 1013.5,620.8 1009.2,629.7 1005.0,638.6 1000.7,647.6 996.5,656.5 992.2,665.5 988.0,674.4 983.7,683.4 979.5,692.4 975.3,701.3 971.0,710.3 966.7,719.2 962.4,728.1 958.0,737.0 953.6,746.0 949.2,754.9 944.8,763.8 940.4,772.7 935.9,781.6 931.4,790.6 926.9,799.5 922.4,808.4 917.8,817.3 913.2,826.2 908.6,835.0 903.9,843.9 899.2,852.8 894.5,861.6 889.8,870.4 885.0,879.2 880.1,888.0 875.3,896.7 870.4,905.4 865.4,914.1 860.4,922.8 855.4,931.4 850.2,940.0 845.1,948.5 840.0,957.0 834.8,965.5 829.5,974.0 824.3,982.4 819.0,990.8 813.6,999.1 808.3,1007.4 802.9,1015.7 797.4,1023.9 791.9,1032.1 786.3,1040.2 780.7,1048.2 775.0,1056.2 769.3,1064.1 763.6,1072.0 757.8,1079.8 751.9,1087.4 746.0,1094.9 739.9,1102.2 733.7,1109.3 727.3,1116.3 720.6,1123.1 713.5,1129.9 706.2,1136.8 698.8,1143.9 691.3,1151.5 683.8,1159.7 677.0,1169.2 671.3,1180.2 667.8,1191.1 A17.0 17.0 0 0 0 699.8,1202.5 Z"/>
<circle cx="637.2" cy="1218.8" r="12.5"/>
<circle cx="672.2" cy="1218.8" r="12.5"/>
<circle cx="697.4" cy="1204.1" r="12.5"/>
<circle cx="655.0" cy="1216.0" r="12.5"/>
<circle cx="686.0" cy="1212.0" r="12.5"/>
<circle cx="650.0" cy="1210.5" r="12.5"/>
<circle cx="664.0" cy="1208.0" r="12.5"/>
<circle cx="678.0" cy="1205.0" r="12.5"/>
</g>
<path fill="#fff" d="M629.7 1216.3h5v-5h5v5h5v5h-5v5h-5v-5h-5zM664.7 1216.3h5v-5h5v5h5v5h-5v5h-5v-5h-5zM689.9 1201.6h5v-5h5v5h5v5h-5v5h-5v-5h-5zM2169.6 1341.5h5v-5h5v5h5v5h-5v5h-5v-5h-5zM2149.8 1336.1h5v-5h5v5h5v5h-5v5h-5v-5h-5zM2075.0 1330.8h5v-5h5v5h5v5h-5v5h-5v-5h-5zM1432.0 503.0h5v5h-5zM1446.9 543.7h5v5h-5zM1464.2 571.3h5v5h-5zM1479.3 601.5h5v5h-5zM1489.5 625.5h5v5h-5zM1499.4 651.1h5v5h-5zM1509.5 670.5h5v5h-5zM1519.3 695.7h5v5h-5zM1528.5 720.5h5v5h-5zM1539.3 745.2h5v5h-5zM1546.5 772.5h5v5h-5zM1556.4 797.5h5v5h-5zM1574.5 820.5h5v5h-5zM1583.9 845.7h5v5h-5zM1596.3 882.3h5v5h-5zM1611.5 917.3h5v5h-5zM1610.5 909.5h5v5h-5zM1638.5 959.5h5v5h-5zM1770.5 1169.5h5v5h-5zM1818.5 1213.5h5v5h-5zM1887.5 1273.5h5v5h-5zM1909.5 1280.5h5v5h-5zM1922.5 1287.5h5v5h-5zM1952.5 1307.5h5v5h-5zM1992.5 1315.5h5v5h-5zM2005.5 1320.9h5v5h-5zM2025.1 1326.2h5v5h-5zM2035.1 1326.2h5v5h-5zM2055.5 1330.8h5v5h-5zM2064.5 1328.5h5v5h-5zM2064.5 1333.5h5v5h-5zM2095.3 1330.8h5v5h-5zM2110.5 1341.0h5v5h-5zM2115.5 1336.0h5v5h-5zM2134.5 1333.5h5v5h-5zM2134.5 1338.5h5v5h-5zM2139.5 1336.0h5v5h-5zM1035.5 597.5h5v5h-5zM1043.5 593.5h5v5h-5zM1027.5 614.5h5v5h-5zM1008.5 647.5h5v5h-5zM968.5 741.5h5v5h-5zM973.5 747.5h5v5h-5zM930.5 820.5h5v5h-5zM924.5 832.5h5v5h-5zM913.5 852.5h5v5h-5zM902.5 869.5h5v5h-5zM891.5 894.5h5v5h-5zM880.5 919.5h5v5h-5zM867.5 937.5h5v5h-5zM803.5 1051.5h5v5h-5zM776.5 1084.5h5v5h-5zM757.0 1109.5h5v5h-5zM716.9 1154.5h5v5h-5zM699.3 1171.5h5v5h-5zM714.5 1171.5h5v5h-5zM654.5 1211.5h5v5h-5zM1039.5 582.5h5v5h-5zM1220.5 305.5h5v5h-5zM1227.5 297.5h5v5h-5zM1361.5 369.5h5v5h-5zM1397.5 429.5h5v5h-5zM1433.5 499.5h5v5h-5zM1471.9 543.7h5v5h-5zM1491.7 583.4h5v5h-5zM1512.4 621.4h5v5h-5zM1530.3 648.3h5v5h-5zM1542.1 687.4h5v5h-5zM1556.4 717.7h5v5h-5zM1566.9 742.5h5v5h-5zM1581.2 777.7h5v5h-5zM1603.2 809.9h5v5h-5zM1616.4 847.6h5v5h-5zM1636.2 887.0h5v5h-5zM1671.1 956.7h5v5h-5zM1689.0 974.6h5v5h-5zM1753.7 1084.7h5v5h-5zM1526.5 652.1h5v5h-5zM1514.2 621.0h5v5h-5zM662.5 1228.9h5v5h-5zM1476.6 503.0h5v5h-5zM1504.1 551.2h5v5h-5zM1519.3 580.1h5v5h-5zM1526.1 613.1h5v5h-5zM1544.0 640.6h5v5h-5zM1570.2 694.3h5v5h-5zM1581.2 717.7h5v5h-5zM1596.3 752.9h5v5h-5zM1115.5 511.0h5v5h-5zM1115.1 510.4h5v5h-5zM1504.5 550.5h5v5h-5zM1519.5 580.5h5v5h-5zM1547.5 638.5h5v5h-5zM946.5 820.5h5v5h-5zM940.5 832.5h5v5h-5zM917.5 882.5h5v5h-5zM627.5 1203.5h5v5h-5zM739.5 1156.5h5v5h-5zM749.5 1146.5h5v5h-5zM774.5 1141.5h5v5h-5zM789.5 1126.5h5v5h-5zM799.5 1126.5h5v5h-5zM823.5 1106.5h5v5h-5zM839.5 1096.5h5v5h-5zM843.5 1081.5h5v5h-5zM861.5 1072.5h5v5h-5zM903.5 1021.5h5v5h-5zM923.5 996.5h5v5h-5zM963.5 932.5h5v5h-5zM1568.8 525.0h5v5h-5zM1583.9 565.8h5v5h-5zM1591.6 598.8h5v5h-5zM1604.6 615.9h5v5h-5zM1618.9 651.1h5v5h-5zM1621.7 678.3h5v5h-5zM1631.3 703.1h5v5h-5zM1641.2 728.2h5v5h-5zM1651.4 757.6h5v5h-5zM1667.9 790.6h5v5h-5zM1671.5 812.7h5v5h-5zM1686.3 847.6h5v5h-5zM1707.8 895.2h5v5h-5zM1732.5 955.5h5v5h-5zM1737.5 975.5h5v5h-5zM1745.5 989.5h5v5h-5zM1133.5 609.5h5v5h-5zM1147.5 585.5h5v5h-5zM1162.5 555.5h5v5h-5zM1154.5 572.5h5v5h-5zM1173.5 537.5h5v5h-5zM1105.5 665.5h5v5h-5zM1087.5 697.5h5v5h-5zM1059.5 742.5h5v5h-5zM1028.5 810.5h5v5h-5zM1018.5 832.5h5v5h-5zM1537.5 467.5h5v5h-5zM1572.5 524.5h5v5h-5z"/>
<text class="t" x="337" y="1360.8" text-anchor="end">0</text>
<text class="t" x="337" y="1149.8" text-anchor="end">0.2</text>
<text class="t" x="337" y="938.8" text-anchor="end">0.4</text>
<text class="t" x="337" y="727.9" text-anchor="end">0.6</text>
<text class="t" x="337" y="516.9" text-anchor="end">0.8</text>
<text class="t" x="337" y="305.9" text-anchor="end">1</text>
<text class="t" x="337" y="94.9" text-anchor="end">1.2</text>
<text class="t" x="383.5" y="1471" text-anchor="middle">100</text>
<text class="t" x="1280.7" y="1471" text-anchor="middle">1000</text>
<text class="t" x="2177.8" y="1471" text-anchor="middle">10000</text>
<text class="s" font-size="100" text-anchor="middle" transform="translate(86 785.0) rotate(-90)">c</text>
<text class="s" font-size="100" text-anchor="middle" transform="translate(86 720.0) rotate(-90)">/</text>
<text class="s" font-size="100" text-anchor="middle" transform="translate(86 661.5) rotate(-90)">c</text>
<text class="u" font-size="73" transform="translate(110.6 635) rotate(-90) scale(0.85 1)">p</text>
<text class="s" font-size="100" x="1229" y="1625" style="fill:#2b2b2b" textLength="80" lengthAdjust="spacingAndGlyphs">N</text>
<text class="u" font-size="76" x="1297" y="1650.5">0</text>
<path fill="#000" d="M2215 125L2229.7 139.7V597.7H1686.2L1671.5 583Z"/>
<rect x="1673.9" y="127.4" width="538.7" height="453.4" fill="#fff" stroke="#000" stroke-width="4.8"/>
<use href="#mk" x="1798.5" y="207.3" fill="#000000"/>
<text class="t" x="1899" y="239.3" style="fill:#000000;stroke:#000000">PUL</text>
<use href="#mk" x="1798.5" y="306.8" fill="#007d0f"/>
<text class="t" x="1899" y="338.7" style="fill:#007d0f;stroke:#007d0f">PDS14</text>
<use href="#mk" x="1798.5" y="406.2" fill="#0000d2"/>
<text class="t" x="1899" y="438.5" style="fill:#0000d2;stroke:#0000d2">PDS20</text>
<use href="#mk" x="1798.5" y="506.1" fill="#fb0505"/>
<text class="t" x="1899" y="538.3" style="fill:#fb0505;stroke:#fb0505">PDS30</text>
</svg></body></html>
